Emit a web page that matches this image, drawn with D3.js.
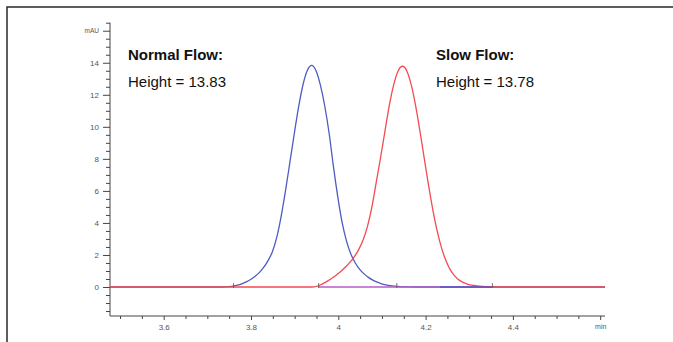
<!DOCTYPE html>
<html>
<head>
<meta charset="utf-8">
<script src="https://cdn.jsdelivr.net/npm/d3@7"></script>
<style>
  body { margin: 0; background: #fff; }
  svg { display: block; font-family: "Liberation Sans", Arial, sans-serif; }
</style>
</head>
<body>
<svg id="chart"></svg>
<script>
const width = 673;
const height = 342;

// retention time (min) / signal (mAU)
const normalTime = [3.477, 3.735, 3.749, 3.759, 3.769, 3.779, 3.789, 3.799, 3.809, 3.819, 3.829, 3.839, 3.849, 3.859, 3.869, 3.879, 3.889, 3.899, 3.909, 3.919, 3.929, 3.939, 3.949, 3.959, 3.969, 3.979, 3.989, 3.999, 4.009, 4.019, 4.029, 4.039, 4.049, 4.059, 4.069, 4.079, 4.089, 4.099, 4.109, 4.119, 4.129, 4.14, 4.16, 4.18, 4.611];
const normalSignal = [0, 0, 0.02, 0.05, 0.11, 0.2, 0.32, 0.47, 0.66, 0.9, 1.22, 1.65, 2.2, 3.1, 4.4, 6.0, 7.76, 9.55, 11.23, 12.61, 13.51, 13.83, 13.5, 12.6, 11.3, 9.6, 7.5, 5.6, 4.0, 2.85, 2.05, 1.5, 1.1, 0.82, 0.6, 0.43, 0.3, 0.2, 0.13, 0.08, 0.05, 0.03, 0.01, 0, 0];

const slowTime = [3.477, 3.94, 3.95, 3.957, 3.967, 3.977, 3.987, 3.997, 4.007, 4.017, 4.027, 4.037, 4.047, 4.057, 4.067, 4.077, 4.087, 4.097, 4.107, 4.117, 4.127, 4.137, 4.147, 4.157, 4.167, 4.177, 4.187, 4.197, 4.207, 4.217, 4.227, 4.237, 4.247, 4.257, 4.267, 4.277, 4.287, 4.297, 4.31, 4.33, 4.35, 4.37, 4.611];
const slowSignal = [0, 0, 0.04, 0.11, 0.24, 0.4, 0.58, 0.78, 1.0, 1.26, 1.55, 1.9, 2.35, 2.95, 3.8, 5.0, 6.55, 8.1, 9.75, 11.35, 12.63, 13.49, 13.78, 13.49, 12.63, 11.34, 9.74, 8.01, 6.31, 4.76, 3.44, 2.4, 1.62, 1.05, 0.68, 0.43, 0.27, 0.17, 0.1, 0.04, 0.01, 0, 0];

// integration baselines [start, end]
const purpleBaseline = [3.954, 4.233];
const blueBaseline = [4.233, 4.352];
// integration event marks
const eventTimes = [3.760, 3.955, 4.134, 4.353];

const yMajor = [0, 2, 4, 6, 8, 10, 12, 14, 16];
const yLabels = ["0", "2", "4", "6", "8", "10", "12", "14", "mAU"];
const xMajor = [3.6, 3.8, 4.0, 4.2, 4.4, 4.6];
const xLabels = ["3.6", "3.8", "4", "4.2", "4.4", "min"];

const peakTitles = ["Normal Flow:", "Slow Flow:"];
const peakHeights = ["Height = 13.83", "Height = 13.78"];

const blue = "#4d5cc0";
const red = "#f44a50";

const x = d3.scaleLinear().domain([3.477, 4.611]).range([110, 605]);
const y = d3.scaleLinear().domain([-1.81, 16.5]).range([316, 22.7]);

const svg = d3.select("#chart").attr("width", width).attr("height", height);

// outer frame
svg.append("path")
  .attr("d", `M7,${height + 2}V7H${width + 2}`)
  .attr("fill", "none")
  .attr("stroke", "#2a2a2a")
  .attr("stroke-width", 1.5);

// y axis
const yMinor = d3.range(-1.5, 16.51, 0.5).filter((v) => v % 2 !== 0);
const yAxis = svg.append("g").attr("transform", "translate(110,0)");
yAxis.call(d3.axisLeft(y).tickValues(yMinor).tickSize(4).tickFormat(""));
yAxis.append("g")
  .call(d3.axisLeft(y).tickValues(yMajor).tickSize(7).tickPadding(4)
    .tickFormat((d, i) => yLabels[i]));
yAxis.selectAll(".domain").remove();
yAxis.append("line")
  .attr("y1", y(16.5)).attr("y2", y(-1.81))
  .attr("stroke", "#444");
yAxis.selectAll("line").attr("stroke", "#444");
yAxis.selectAll("text")
  .attr("fill", "#555")
  .attr("font-size", (d) => (d === 16 ? "6.5px" : "8px"))
  .attr("font-family", "Liberation Sans, Arial, sans-serif");

// x axis
const xMinor = d3.range(3.5, 4.601, 0.05).filter((v) => Math.abs(v * 5 - Math.round(v * 5)) > 0.01);
const xAxis = svg.append("g").attr("transform", "translate(0,316)");
xAxis.call(d3.axisBottom(x).tickValues(xMinor).tickSize(3).tickFormat(""));
xAxis.append("g")
  .call(d3.axisBottom(x).tickValues(xMajor).tickSize(4).tickPadding(4)
    .tickFormat((d, i) => xLabels[i]));
xAxis.selectAll(".domain").remove();
xAxis.append("line")
  .attr("x1", x(3.477)).attr("x2", x(4.611))
  .attr("stroke", "#444");
xAxis.selectAll("line").attr("stroke", "#444");
xAxis.selectAll("text")
  .attr("fill", "#555")
  .attr("font-size", (d) => (d > 4.5 ? "7px" : "8px"))
  .attr("font-family", "Liberation Sans, Arial, sans-serif");

// traces
const line = d3.line()
  .x((d) => x(d[0]))
  .y((d) => y(d[1]))
  .curve(d3.curveMonotoneX);

svg.append("path")
  .datum(d3.zip(normalTime, normalSignal))
  .attr("d", line)
  .attr("fill", "none")
  .attr("stroke", blue)
  .attr("stroke-width", 1.3);

svg.append("path")
  .datum(d3.zip(slowTime, slowSignal))
  .attr("d", line)
  .attr("fill", "none")
  .attr("stroke", red)
  .attr("stroke-width", 1.3);

// baselines
svg.append("line")
  .attr("x1", x(purpleBaseline[0])).attr("x2", x(purpleBaseline[1]))
  .attr("y1", y(0)).attr("y2", y(0))
  .attr("stroke", "#b45cc4")
  .attr("stroke-width", 1.6);
svg.append("line")
  .attr("x1", x(blueBaseline[0])).attr("x2", x(blueBaseline[1]))
  .attr("y1", y(0)).attr("y2", y(0))
  .attr("stroke", "#6a4cc0")
  .attr("stroke-width", 1.6);

svg.append("g")
  .selectAll("line")
  .data(eventTimes)
  .join("line")
  .attr("x1", (d) => x(d)).attr("x2", (d) => x(d))
  .attr("y1", y(0) - 4).attr("y2", y(0) + 1)
  .attr("stroke", "#555")
  .attr("stroke-width", 0.8);

// annotations
const notes = svg.append("g").attr("fill", "#111");
notes.selectAll(".title")
  .data(peakTitles)
  .join("text")
  .attr("class", "title")
  .attr("x", (d, i) => (i === 0 ? 128 : 436))
  .attr("y", 60)
  .attr("font-size", "15px")
  .attr("font-weight", "bold")
  .text((d) => d);
notes.selectAll(".height")
  .data(peakHeights)
  .join("text")
  .attr("class", "height")
  .attr("x", (d, i) => (i === 0 ? 128 : 436))
  .attr("y", 87)
  .attr("font-size", "15px")
  .text((d) => d);
</script>
</body>
</html>
